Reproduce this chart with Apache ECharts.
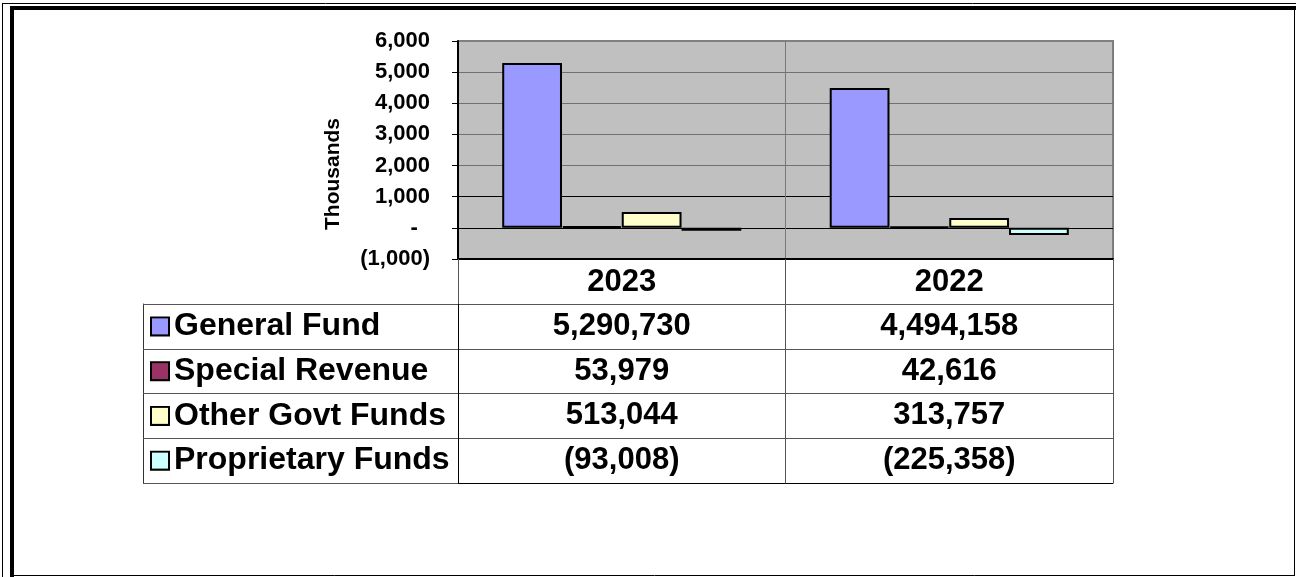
<!DOCTYPE html>
<html lang="en">
<head>
    <meta charset="UTF-8">
    <title>Fund Balances</title>
    <style>
        html, body { margin: 0; padding: 0; background: #fff; }
        #render-target { width: 1296px; height: 577px; }
    </style>
    <script src="https://cdn.jsdelivr.net/npm/echarts@6/dist/echarts.min.js"></script>
</head>
<body>
    <div id="render-target"></div>
    <script>
        const years = ["2023", "2022"]
        const seriesNames = ["General Fund", "Special Revenue", "Other Govt Funds", "Proprietary Funds"]
        const generalFund = [5290730, 4494158]
        const specialRevenue = [53979, 42616]
        const otherGovtFunds = [513044, 313757]
        const proprietaryFunds = [-93008, -225358]
        const seriesColors = ["#9999FF", "#993366", "#FFFFCC", "#CCFFFF"]
        const yTicks = { min: -1000, max: 6000, interval: 1000 }

        const allValues = [generalFund, specialRevenue, otherGovtFunds, proprietaryFunds]
        const font = "Liberation Sans, Arial, sans-serif"

        const fmt = v => Math.abs(v).toLocaleString("en-US")
        const acct = v => v < 0 ? "(" + fmt(v) + ")" : fmt(v)

        const rich = { t: { fontFamily: font, fontWeight: "bold", fontSize: 32, color: "#000", padding: [0, 0, 0, 6] } }
        seriesColors.forEach((c, i) => {
            rich["sq" + i] = { width: 16, height: 16, backgroundColor: c, borderColor: "#000", borderWidth: 2 }
        })

        const bars = seriesNames.map((name, i) => ({
            name,
            type: "bar",
            xAxisIndex: 0,
            yAxisIndex: 0,
            barGap: "0%",
            barCategoryGap: "27%",
            itemStyle: { color: seriesColors[i], borderColor: "#000", borderWidth: 2 },
            data: allValues[i].map(v => v / 1000),
        }))

        const cells = []
        allValues.forEach((vals, r) => vals.forEach((v, c) => cells.push([c, r, v])))

        const chart = echarts.init(document.querySelector("#render-target"))
        chart.setOption({
            animation: false,
            grid: [
                { left: 458, right: 183, top: 41, bottom: 318, show: true, backgroundColor: "#C0C0C0", borderColor: "#808080", borderWidth: 2 },
                { left: 458, right: 183, top: 304, bottom: 94 },
            ],
            xAxis: [
                {
                    type: "category", gridIndex: 0, data: years, position: "bottom",
                    axisLine: { show: true, onZero: false, lineStyle: { color: "#000", width: 2 } },
                    axisTick: { show: true, length: 45, lineStyle: { color: "#555" } },
                    axisLabel: { margin: 8, color: "#000", fontFamily: font, fontWeight: "bold", fontSize: 31 },
                    splitLine: { show: true, lineStyle: { color: "#777", width: 1 } },
                },
                {
                    type: "category", gridIndex: 1, data: years, position: "bottom",
                    axisLine: { show: true, lineStyle: { color: "#000" } },
                    axisTick: { show: false },
                    axisLabel: { show: false },
                    splitLine: { show: true, lineStyle: { color: "#555" } },
                },
            ],
            yAxis: [
                {
                    type: "value", gridIndex: 0, position: "left",
                    min: yTicks.min, max: yTicks.max, interval: yTicks.interval,
                    name: "Thousands", nameLocation: "middle", nameGap: 114,
                    nameTextStyle: { color: "#000", fontFamily: font, fontWeight: "bold", fontSize: 21, padding: [0, 48, 0, 0] },
                    axisLine: { show: true, lineStyle: { color: "#000", width: 2 } },
                    axisTick: { show: true, length: 6, lineStyle: { color: "#000" } },
                    axisLabel: {
                        margin: 28, color: "#000", fontFamily: font, fontWeight: "bold", fontSize: 22,
                        formatter: v => v === 0 ? "-\u00a0\u00a0" : acct(v),
                    },
                    splitLine: {
                        show: true,
                        lineStyle: { width: 1, color: ["#000", "#000", "#000", "#707070", "#707070", "#707070", "#707070", "#808080"] },
                    },
                },
                {
                    type: "category", gridIndex: 1, data: seriesNames, inverse: true, position: "left",
                    axisLine: { show: true, lineStyle: { color: "#000" } },
                    axisTick: { show: true, length: 315, lineStyle: { color: "#555" } },
                    axisLabel: {
                        show: true, align: "left", margin: 306, rich,
                        formatter: (v, i) => "{sq" + i + "|}{t|" + v + "}",
                    },
                    splitLine: { show: true, lineStyle: { color: "#555" } },
                },
                {
                    type: "category", gridIndex: 1, data: seriesNames, inverse: true, position: "left", offset: 315,
                    axisLine: { show: true, lineStyle: { color: "#333" } },
                    axisTick: { show: false },
                    axisLabel: { show: false },
                },
            ],
            graphic: [
                { type: "line", shape: { x1: 2.5, y1: 3, x2: 2.5, y2: 577 }, style: { stroke: "#000", lineWidth: 1 } },
                { type: "line", shape: { x1: 2, y1: 3.5, x2: 1296, y2: 3.5 }, style: { stroke: "#000", lineWidth: 1 } },
                { type: "rect", shape: { x: 10, y: 6, width: 4, height: 571 }, style: { fill: "#000" } },
                { type: "rect", shape: { x: 10, y: 6, width: 1286, height: 4 }, style: { fill: "#000" } },
                { type: "line", shape: { x1: 1294.5, y1: 10, x2: 1294.5, y2: 576 }, style: { stroke: "#000", lineWidth: 1 } },
                { type: "line", shape: { x1: 14, y1: 575.5, x2: 1295, y2: 575.5 }, style: { stroke: "#000", lineWidth: 1 } },
            ],
            series: bars.concat([{
                type: "scatter",
                xAxisIndex: 1,
                yAxisIndex: 1,
                symbolSize: 1,
                itemStyle: { color: "#fff", opacity: 1 },
                label: {
                    show: true, position: "inside", color: "#000", opacity: 1,
                    textBorderWidth: 0,
                    fontFamily: font, fontWeight: "bold", fontSize: 31,
                    formatter: p => acct(p.value[2]),
                },
                data: cells,
            }]),
        })
    </script>
</body>
</html>
